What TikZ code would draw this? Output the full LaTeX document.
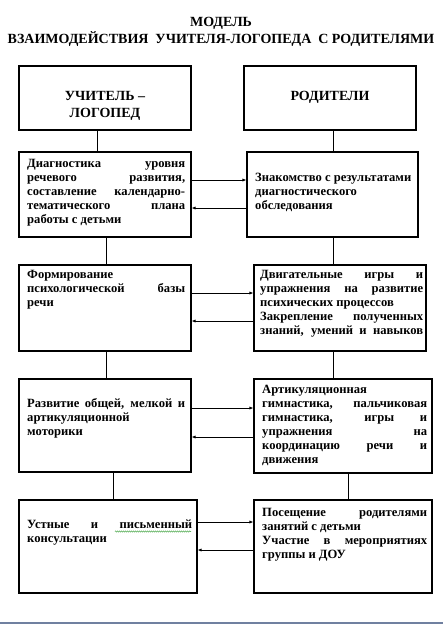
\documentclass[tikz,border=0pt]{standalone}
\usepackage{fontspec}
\setmainfont{Liberation Serif}
\usetikzlibrary{arrows.meta,decorations.pathmorphing}
\newcommand\jline[1]{\hbox to \hsize{\spaceskip=0.22em plus 1fil\relax #1}}
\newcommand\lline[1]{\hbox{#1}}
\definecolor{pageline}{RGB}{112,128,160}
\definecolor{spell}{RGB}{60,160,60}
\tikzset{
  box/.style={draw, line width=1.1pt, inner sep=0pt},
  txt/.style={anchor=base west, inner sep=0pt, font=\bfseries\fontsize{12.6}{14.1}\selectfont},
  head/.style={inner sep=0pt, font=\bfseries\fontsize{14}{17}\selectfont, align=center},
  link/.style={line width=0.8pt},
  arr/.style={line width=0.8pt, -{Latex[length=4pt,width=3.2pt]}}
}
\begin{document}
\begin{tikzpicture}[x=1pt,y=-1pt]
\useasboundingbox (0,0) rectangle (443,625);
% title
\node[head, anchor=base] (title1) at (221,26) {МОДЕЛЬ};
\node[head, anchor=base] (title2) at (221,43) {ВЗАИМОДЕЙСТВИЯ\ \ УЧИТЕЛЯ-ЛОГОПЕДА\ \ С РОДИТЕЛЯМИ};
% header boxes
\node[box, minimum width=172pt, minimum height=64pt] (H1) at (105,98) {};
\node[box, minimum width=172pt, minimum height=64pt] (H2) at (330,98) {};
\node[head, anchor=base] (h1a) at (105,100) {УЧИТЕЛЬ –};
\node[head, anchor=base] (h1b) at (105,117) {ЛОГОПЕД};
\node[head, anchor=base] (h2a) at (330,100) {РОДИТЕЛИ};
% row boxes
\node[box, minimum width=172pt, minimum height=85pt] (L1) at (105,194.5) {};
\node[box, minimum width=171pt, minimum height=85pt] (R1) at (332.5,194.5) {};
\node[box, minimum width=172pt, minimum height=86pt] (L2) at (105,308) {};
\node[box, minimum width=172pt, minimum height=86pt] (R2) at (340,308) {};
\node[box, minimum width=172pt, minimum height=93pt] (L3) at (105,425.5) {};
\node[box, minimum width=178pt, minimum height=94pt] (R3) at (343,426) {};
\node[box, minimum width=178pt, minimum height=93pt] (L4) at (108,546.5) {};
\node[box, minimum width=178pt, minimum height=93pt] (R4) at (343,546.5) {};
% texts
\node[txt] (tL1) at (27,167) {\parbox[t]{158pt}{%
 \jline{Диагностика уровня}\jline{речевого развития,}\jline{составление календарно-}\jline{тематического плана}\lline{работы с детьми}}};
\node[txt] (tR1) at (255,181) {\parbox[t]{160pt}{%
 \lline{Знакомство с результатами}\lline{диагностического}\lline{обследования}}};
\node[txt] (tL2) at (27,278) {\parbox[t]{158pt}{%
 \lline{Формирование}\jline{психологической базы}\lline{речи}}};
\node[txt] (tR2) at (260,278) {\parbox[t]{163pt}{%
 \jline{Двигательные игры и}\jline{упражнения на развитие}\lline{психических процессов}\jline{Закрепление полученных}\jline{знаний, умений и навыков}}};
\node[txt] (tL3) at (27,407) {\parbox[t]{158pt}{%
 \jline{Развитие общей, мелкой и}\lline{артикуляционной}\lline{моторики}}};
\node[txt] (tR3) at (262,393) {\parbox[t]{165pt}{%
 \lline{Артикуляционная}\jline{гимнастика, пальчиковая}\jline{гимнастика, игры и}\jline{упражнения на}\jline{координацию речи и}\lline{движения}}};
\node[txt] (tL4) at (27,528) {\parbox[t]{165pt}{%
 \jline{Устные и письменный}\lline{консультации}}};
\node[txt] (tR4) at (262,516) {\parbox[t]{165pt}{%
 \jline{Посещение родителями}\lline{занятий с детьми}\jline{Участие в мероприятиях}\lline{группы и ДОУ}}};
% spell-check underline
\coordinate (sp1) at (115,531.5);
\coordinate (sp2) at (191,531.5);
\draw[spell, line width=0.5pt, decorate, decoration={snake, amplitude=0.6pt, segment length=2pt}] (sp1) -- (sp2);
% vertical links
\draw[link] (97,0 |- H1.south) -- (97,0 |- L1.north);
\draw[link] (333,0 |- H2.south) -- (333,0 |- R1.north);
\draw[link] (106,0 |- L1.south) -- (106,0 |- L2.north);
\draw[link] (333,0 |- R1.south) -- (333,0 |- R2.north);
\draw[link] (106,0 |- L2.south) -- (106,0 |- L3.north);
\draw[link] (333,0 |- R2.south) -- (333,0 |- R3.north);
\draw[link] (113,0 |- L3.south) -- (113,0 |- L4.north);
\draw[link] (348,0 |- R3.south) -- (348,0 |- R4.north);
% horizontal arrows
\draw[arr] (L1.east |- 0,180) -- (R1.west |- 0,180);
\draw[arr] (R1.west |- 0,208) -- (L1.east |- 0,208);
\draw[arr] (L2.east |- 0,293) -- (R2.west |- 0,293);
\draw[arr] (R2.west |- 0,321) -- (L2.east |- 0,321);
\draw[arr] (L3.east |- 0,408) -- (R3.west |- 0,408);
\draw[arr] (R3.west |- 0,437) -- (L3.east |- 0,437);
\draw[arr] (L4.east |- 0,522) -- (R4.west |- 0,522);
\draw[arr] (R4.west |- 0,550) -- (L4.east |- 0,550);
% page edge line
\coordinate (pe1) at (0,623);
\coordinate (pe2) at (443,623);
\draw[pageline, line width=2pt] (pe1) -- (pe2);
\end{tikzpicture}
\end{document}
